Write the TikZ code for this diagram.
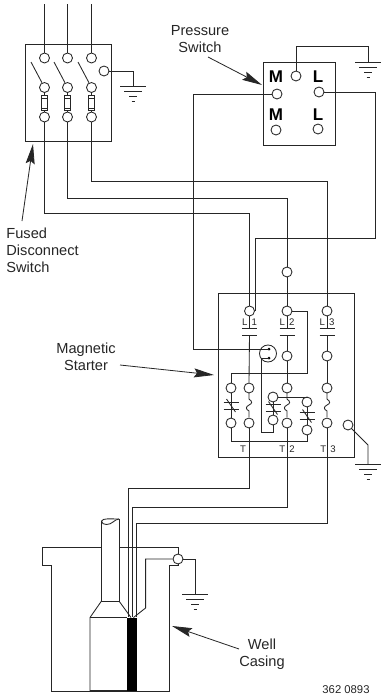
\documentclass[tikz,border=0pt]{standalone}
\usepackage{fontspec}
\setmainfont{Liberation Sans}
\usetikzlibrary{arrows.meta}
\tikzset{
  x=1pt,y=-1pt,
  every path/.style={line width=0.85pt,color=black!85},
  term/.style={draw,circle,fill=white,inner sep=0pt,minimum size=10pt},
  bigterm/.style={draw,circle,fill=white,inner sep=0pt,minimum size=17pt},
  dotterm/.style={fill=black,circle,inner sep=0pt,minimum size=3pt},
  fusebox/.style={draw,rectangle,inner sep=0pt,minimum width=6.5pt,minimum height=14.5pt},
  labeltext/.style={font=\fontsize{14.6}{17}\selectfont,align=center,inner sep=0pt,text=black!85},
  leftlabel/.style={labeltext,align=left,anchor=west},
  termtext/.style={font=\fontsize{17}{17}\selectfont\bfseries,inner sep=0pt,text=black},
  smalltext/.style={font=\fontsize{9.6}{10}\selectfont,inner sep=0pt,text=black!85},
  pointer/.style={-{Stealth[length=20pt,width=9pt,inset=3pt]},line width=0.8pt},
  gnd/.pic={
    \draw (-13,0) -- (13,0);
    \draw (-9,5) -- (9,5);
    \draw (-4,10) -- (4,10);
    \draw (-1.5,15) -- (1.5,15);
  },
  plate/.pic={\draw (-7.5,0) -- (7.5,0);},
  wave/.pic={
    \draw (0,0) -- (0,6) .. controls (3.5,8.5) and (3.5,10.5) .. (0,12)
      .. controls (-3.5,14) and (-3.5,16) .. (0,18) -- (0,24);
  },
  cross/.pic={
    \draw (-7.5,0) -- (7.5,0);
    \draw (-7.5,7) -- (7.5,7);
    \draw (-4.5,-3) -- (4.5,10);
  }
}
\begin{document}
\begin{tikzpicture}
\useasboundingbox (0,0) rectangle (381,697);
\fill[white] (0,0) rectangle (381,697);

% Fused disconnect
\node[draw,minimum width=86pt,minimum height=97pt,inner sep=0pt] (dbox) at (68,92.5) {};
\foreach \n/\x in {1/44.5,2/67.5,3/91.5}{
  \node[term] (a\n) at (\x,58) {};
  \node[term] (b\n) at (\x,87.5) {};
  \node[term] (c\n) at (\x,117) {};
  \node[fusebox] (f\n) at (\x,103) {};
  \draw (f\n.north) -- (b\n.south);
  \draw (f\n.south) -- (c\n.north);
  \draw (\x-3.5,98) -- (\x+3.5,98);
  \draw (\x-3.5,108) -- (\x+3.5,108);
  \coordinate (top\n) at (\x-0.5,4);
  \draw (top\n) -- (top\n |- a\n.north);
  \coordinate (blade\n) at (\x-13.5,62);
  \draw (blade\n) -- (b\n);
}
\node[term] (dg) at (104,71) {};
\coordinate (dgc) at (133,86);
\draw (dg.east) -| (dgc);
\pic at (dgc) {gnd};

% Pressure switch
\node[draw,minimum width=72pt,minimum height=83pt,inner sep=0pt] (pbox) at (299,103.5) {};
\node[termtext] (tm1) at (276,77) {M};
\node[termtext] (tl1) at (318,77) {L};
\node[termtext] (tm2) at (276,115) {M};
\node[termtext] (tl2) at (318,115) {L};
\node[term] (pg) at (296,76) {};
\node[term] (pM) at (277,94) {};
\node[term] (pL) at (319,92) {};
\node[term] (pM2) at (276,130) {};
\node[term] (pL2) at (318,129) {};
\coordinate (pgc) at (368,62);
\draw (pg.north) -- ++(0,-24.5) -| (pgc);
\pic at (pgc) {gnd};

% Magnetic starter
\node[draw,minimum width=136pt,minimum height=164pt,inner sep=0pt] (sbox) at (286.5,375) {};
\node[term] (L1) at (249.5,311) {};
\node[term] (L2) at (287,311) {};
\node[term] (L3) at (327,311) {};
\node[term] (tp) at (287,272) {};
\node[bigterm] (cc) at (268,353.5) {};
\node[dotterm] (d1) at (269,349) {};
\node[dotterm] (d2) at (269,358) {};
\node[term] (s2) at (287,356) {};
\node[term] (s3) at (327,356) {};
\foreach \n/\x in {1/231,2/249,3/287,4/327}{
  \node[term] (u\n) at (\x,388) {};
  \node[term] (v\n) at (\x,423) {};
}
\node[term] (mu) at (273,397) {};
\node[term] (mv) at (273,420) {};
\node[term] (ru) at (307,402) {};
\node[term] (rv) at (307,430) {};
\node[term] (sg) at (348,425) {};

\coordinate (p1a) at (249.5,328); \coordinate (p1b) at (249.5,335);
\coordinate (p2a) at (287,328);   \coordinate (p2b) at (287,335);
\coordinate (p3a) at (327,328);   \coordinate (p3b) at (327,335);
\foreach \k in {p1a,p1b,p2a,p2b,p3a,p3b}{\pic at (\k) {plate};}
\draw (L1.south) -- (p1a);
\draw (L2.south) -- (p2a);
\draw (L3.south) -- (p3a);
\draw (p1b) -- (u2.north);
\draw (p2b) -- (s2.north);
\draw (p3b) -- (s3.north);
\draw (s2.south) -- (u3.north);
\draw (s3.south) -- (u4.north);
\node[smalltext] (tL1) at (249.5,322) {L\hspace{4.2pt}1};
\node[smalltext] (tL2) at (287,322) {L\hspace{4.2pt}2};
\node[smalltext] (tL3) at (327,322) {L\hspace{4.2pt}3};
\node[smalltext] (tT1) at (243,449) {T};
\node[smalltext] (tT2) at (287,449) {T\hspace{4.2pt}2};
\node[smalltext] (tT3) at (328,449) {T\hspace{4.2pt}3};

% overload and heater elements
\draw (u1.south) -- (v1.north);
\pic at (231,402) {cross};
\draw (mu.south) -- (mv.north);
\pic at (273,404.5) {cross};
\draw (ru.south) -- (rv.north);
\pic at (307,412.5) {cross};
\pic at (249,393) {wave};
\pic at (287,393) {wave};
\pic at (327,393) {wave};
\draw (mu.east) -| (ru.north);
\draw (L2.east) -- ++(15,0) -- ++(0,62.5) -| (u1.north);
\draw (v1.south) -- ++(0,13.2) -| (rv.south);
\draw (d2.center) -- ++(-8,0) -- ++(0,74) -| (mv.south);

% Well
\coordinate (wa) at (42,547);
\coordinate (wb) at (101.5,547);
\coordinate (wc) at (119,547);
\node[term] (wt) at (178,559) {};
\fill[black] (126.5,617.5) rectangle (136.5,691);
\draw (wb) -- (wa) -- (42,565) -- (51,565) -- (51,691) -- (169,691) -- (169,565) -- (178,565) -- (wt.south);
\draw (wc) -- (178,547) -- (wt.north);
\draw (101.5,521) -- (101.5,601) -- (119,601) -- (119,519);
\draw (101.5,521) .. controls (103,518) and (110,519) .. (119,519);
\draw (101.5,521) .. controls (102,526) and (110,525) .. (113,522) .. controls (115,520) and (117,519.5) .. (119,519);
\draw (101.5,601) -- (90,617.5) -- (90,691);
\draw (90,617.5) -- (126.5,617.5);
\draw (119,601) -- (131,617.5);
\draw[line width=1.1pt] (90,691) -- (126.5,691);
\coordinate (wj) at (133.5,617.5);
\draw (wt.west) -- ++(-27,0) -- ++(0,49) -- (wj);
\coordinate (wgc) at (195,594);
\draw (wt.east) -| (wgc);
\pic at (wgc) {gnd};

% Wires
\draw (c1.south) -- ++(0,91) -| (L1.north);
\draw (c2.south) -- ++(0,76) -| (tp.north);
\draw (tp.south) -- (L2.north);
\draw (c3.south) -- ++(0,59) -| (L3.north);
\draw (pL.east) -- ++(51,0) -- ++(0,146) -| (L1.east);
\draw (pM.west) -- ++(-78.5,0) |- (d1.center);
\coordinate (sgc) at (368,464);
\draw (sg) -- (368,445) -- (sgc);
\pic at (sgc) {gnd};

% Motor leads
\coordinate (e1) at (128,617);
\coordinate (e2) at (132.5,617);
\coordinate (e3) at (136,617);
\draw (v2.south) -- ++(0,60) -| (e1);
\draw (v3.south) -- ++(0,79) -| (e2);
\draw (v4.south) -- ++(0,95) -| (e3);

% Labels and pointers
\node[labeltext] (lp) at (200,39.5) {Pressure\\Switch};
\coordinate (lpf) at (208,57); \coordinate (lpt) at (262,85);
\draw[pointer] (lpf) -- (lpt);
\node[leftlabel] (lf) at (6,250.5) {Fused\\Disconnect\\Switch};
\coordinate (lff) at (22,221); \coordinate (lft) at (33,144);
\draw[pointer] (lff) -- (lft);
\node[labeltext] (lm) at (86,356.5) {Magnetic\\Starter};
\coordinate (lmf) at (120,365); \coordinate (lmt) at (214,375);
\draw[pointer] (lmf) -- (lmt);
\node[labeltext] (lw) at (262,654.5) {Well\\Casing};
\coordinate (lwf) at (239,649); \coordinate (lwt) at (172,626);
\draw[pointer] (lwf) -- (lwt);
\node[font=\fontsize{11.3}{12}\selectfont,inner sep=0pt,text=black!85] (code) at (346,690) {362 0893};
\end{tikzpicture}
\end{document}
